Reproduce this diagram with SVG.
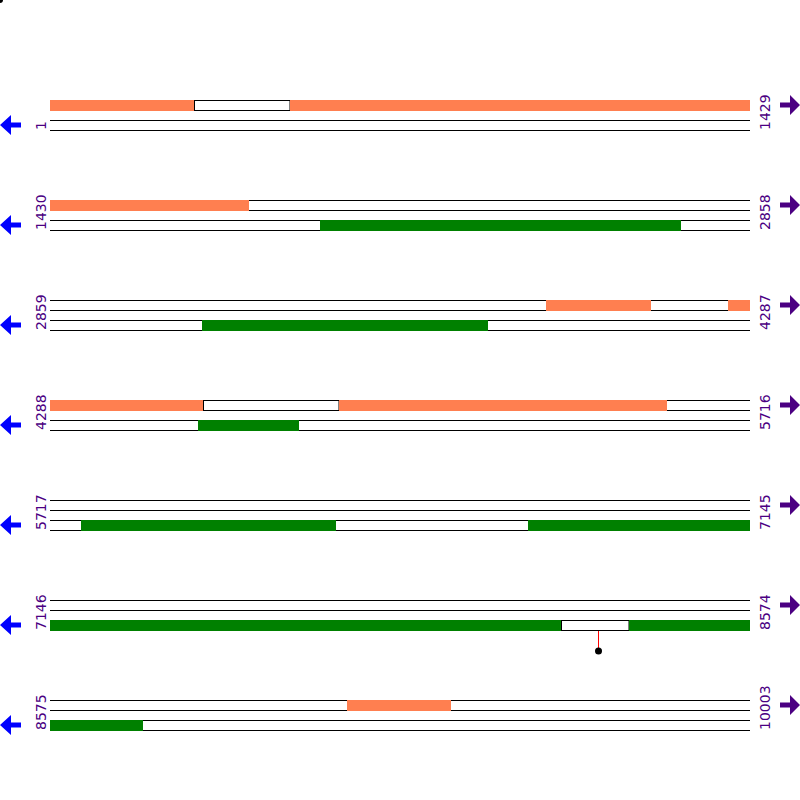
<svg xmlns="http://www.w3.org/2000/svg" width="800" height="800" viewBox="0 0 800 800">
<style>
.trk{stroke:#000;stroke-width:1;fill:none}
.fw{fill:#FF7F50}
.rv{fill:#008000}
.gap{fill:#fff;stroke:#000;stroke-width:1}
.lbl{font-family:"DejaVu Sans",sans-serif;font-size:14px;fill:#4B0082}
.la{fill:#0000FF}
.ra{fill:#4B0082}
</style>
<defs>
<path id="tracks" class="trk" d="M50 0.5H750M50 10.5H750M50 20.5H750M50 30.5H750"/>
<polygon id="larr" points="0,25 11,15 11,22.5 21,22.5 21,27.5 11,27.5 11,35"/>
<polygon id="rarr" points="800,5 790,-5 790,2.5 780,2.5 780,7.5 790,7.5 790,15"/>
</defs>
<rect width="800" height="800" fill="#fff"/>
<circle cx="0" cy="0" r="3" fill="#000"/>

<g id="row1" transform="translate(0,100)">
<use href="#tracks"/>
<rect class="fw" x="50" y="0" width="144" height="11"/>
<rect class="gap" x="194.5" y="0.5" width="95.5" height="10"/>
<rect class="fw" x="290" y="0" width="460" height="11"/>
<use href="#larr" class="la"/>
<use href="#rarr" class="ra"/>
<text class="lbl" transform="translate(46,30) rotate(-90)">1</text>
<text class="lbl" transform="translate(770,30) rotate(-90)">1429</text>
</g>

<g id="row2" transform="translate(0,200)">
<use href="#tracks"/>
<rect class="fw" x="50" y="0" width="199" height="11"/>
<rect class="rv" x="320" y="20" width="361" height="11"/>
<use href="#larr" class="la"/>
<use href="#rarr" class="ra"/>
<text class="lbl" transform="translate(46,30) rotate(-90)">1430</text>
<text class="lbl" transform="translate(770,30) rotate(-90)">2858</text>
</g>

<g id="row3" transform="translate(0,300)">
<use href="#tracks"/>
<rect class="fw" x="546" y="0" width="105" height="11"/>
<rect class="fw" x="728" y="0" width="22" height="11"/>
<rect class="rv" x="202" y="20" width="286" height="11"/>
<use href="#larr" class="la"/>
<use href="#rarr" class="ra"/>
<text class="lbl" transform="translate(46,30) rotate(-90)">2859</text>
<text class="lbl" transform="translate(770,30) rotate(-90)">4287</text>
</g>

<g id="row4" transform="translate(0,400)">
<use href="#tracks"/>
<rect class="fw" x="50" y="0" width="153" height="11"/>
<rect class="gap" x="203.5" y="0.5" width="135.5" height="10"/>
<rect class="fw" x="339" y="0" width="328" height="11"/>
<rect class="rv" x="198" y="20" width="101" height="11"/>
<use href="#larr" class="la"/>
<use href="#rarr" class="ra"/>
<text class="lbl" transform="translate(46,30) rotate(-90)">4288</text>
<text class="lbl" transform="translate(770,30) rotate(-90)">5716</text>
</g>

<g id="row5" transform="translate(0,500)">
<use href="#tracks"/>
<rect class="rv" x="81" y="20" width="255" height="11"/>
<rect class="rv" x="528" y="20" width="222" height="11"/>
<use href="#larr" class="la"/>
<use href="#rarr" class="ra"/>
<text class="lbl" transform="translate(46,30) rotate(-90)">5717</text>
<text class="lbl" transform="translate(770,30) rotate(-90)">7145</text>
</g>

<g id="row6" transform="translate(0,600)">
<use href="#tracks"/>
<rect class="rv" x="50" y="20" width="511" height="11"/>
<rect class="gap" x="561.5" y="20.5" width="67.5" height="10"/>
<rect class="rv" x="629" y="20" width="121" height="11"/>
<line x1="598.5" y1="31" x2="598.5" y2="50" stroke="#FF0000" stroke-width="1"/>
<circle cx="598.5" cy="51" r="3.5" fill="#000"/>
<use href="#larr" class="la"/>
<use href="#rarr" class="ra"/>
<text class="lbl" transform="translate(46,30) rotate(-90)">7146</text>
<text class="lbl" transform="translate(770,30) rotate(-90)">8574</text>
</g>

<g id="row7" transform="translate(0,700)">
<use href="#tracks"/>
<rect class="fw" x="347" y="0" width="104" height="11"/>
<rect class="rv" x="50" y="20" width="93" height="11"/>
<use href="#larr" class="la"/>
<use href="#rarr" class="ra"/>
<text class="lbl" transform="translate(46,30) rotate(-90)">8575</text>
<text class="lbl" transform="translate(770,30) rotate(-90)">10003</text>
</g>
</svg>
